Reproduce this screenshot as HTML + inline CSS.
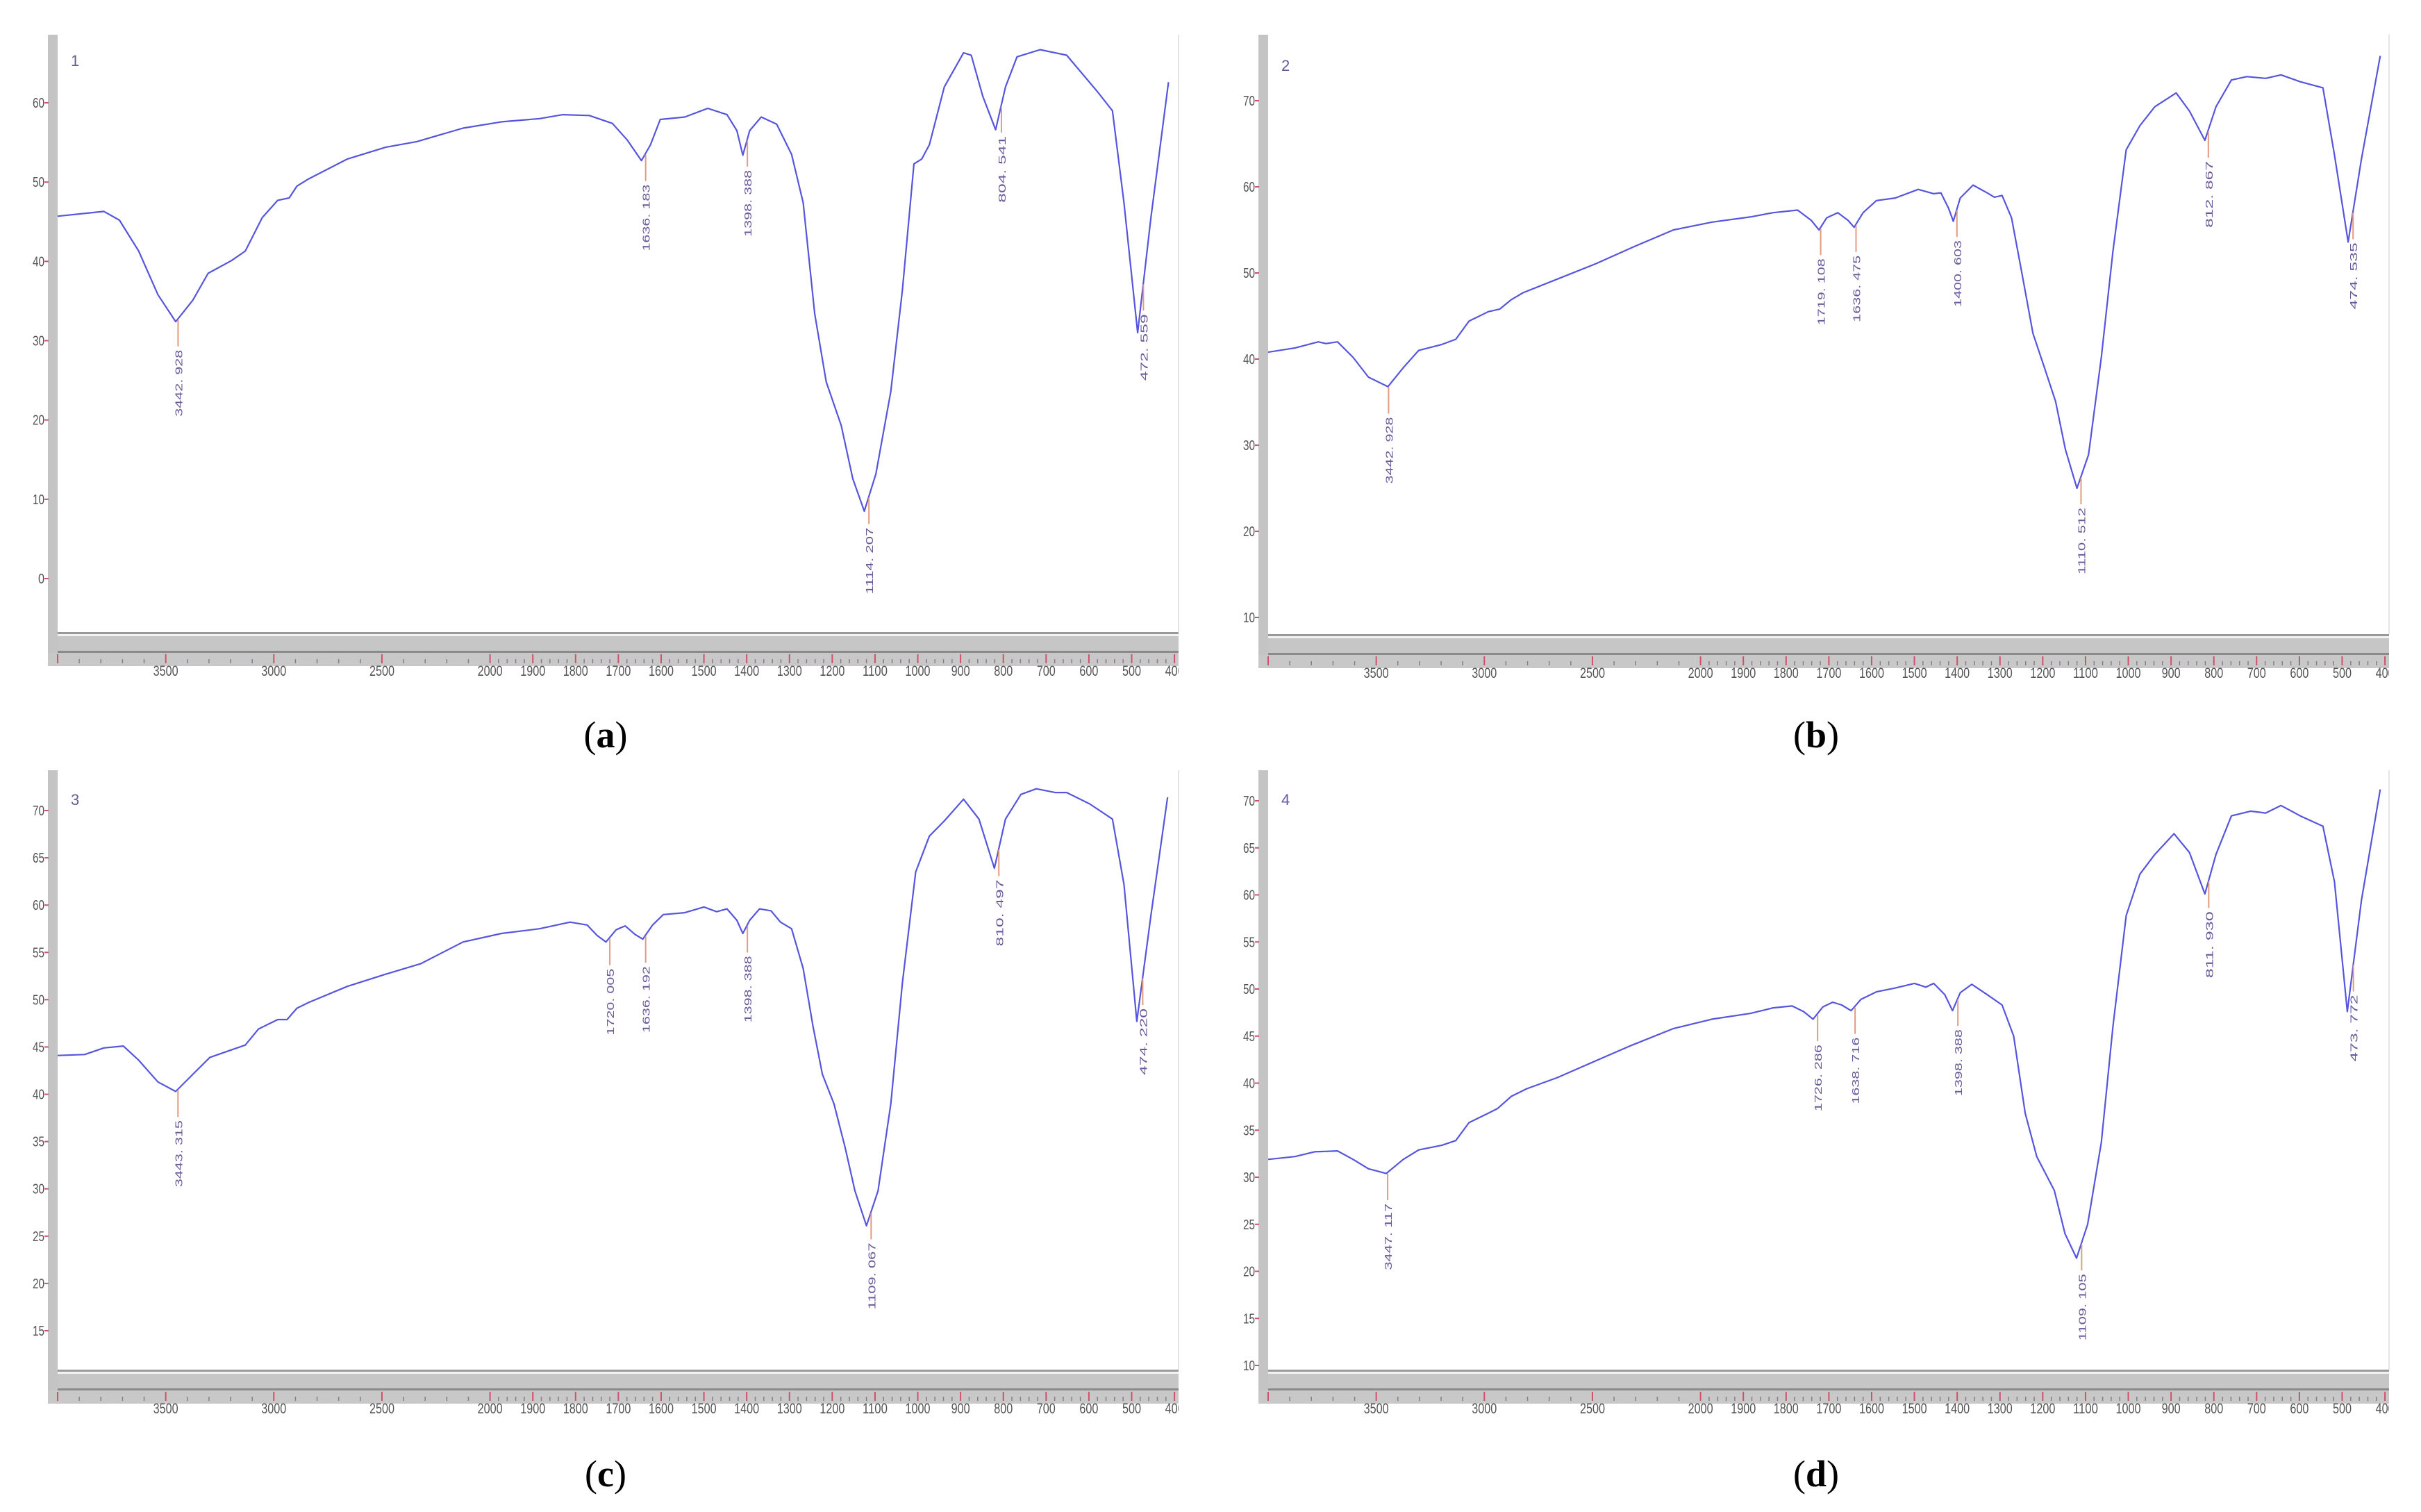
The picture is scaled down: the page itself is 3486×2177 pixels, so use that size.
<!DOCTYPE html>
<html><head><meta charset="utf-8"><style>
html,body{margin:0;padding:0;background:#fff;}
svg{display:block;}
</style></head><body>
<svg id="fig" xmlns="http://www.w3.org/2000/svg" width="3486" height="2177" viewBox="0 0 3486 2177"></svg>
<script>
// ---- Data: panel (a) ----
const wnA=[4000,3786,3714,3625,3536,3454,3375,3304,3196,3132,3054,2982,2929,2893,2839,2661,2482,2339,2125,1973,1884,1830,1768,1714,1679,1646,1625,1602,1545,1491,1446,1423,1409,1393,1366,1330,1295,1268,1241,1214,1179,1152,1125,1098,1063,1036,1009,991,973,938,893,875,848,818,795,768,714,652,580,545,518,486,455,414];
const tA=[45.7,46.3,45.2,41.3,35.8,32.4,35.1,38.5,40.1,41.3,45.5,47.7,48,49.5,50.4,52.9,54.4,55.1,56.8,57.6,58,58.5,58.4,57.4,55.3,52.7,54.7,57.9,58.2,59.3,58.5,56.5,53.4,56.5,58.2,57.3,53.5,47.4,33.4,24.8,19.3,12.6,8.5,13.2,23.6,36.4,52.3,52.9,54.7,62,66.3,66,60.8,56.6,62,65.8,66.7,66,61.4,59,47.4,31,45.5,62.6];
const peaksA=[3442.928,1636.183,1398.388,1114.207,804.541,472.559];
const peakLabelsA=["3442. 928","1636. 183","1398. 388","1114. 207","804. 541","472. 559"];
const yTicksA=[0,10,20,30,40,50,60];
// ---- Data: panel (b) ----
const wnB=[4000,3875,3768,3732,3679,3607,3536,3446,3375,3304,3196,3132,3071,2982,2929,2875,2821,2661,2482,2304,2125,1973,1884,1830,1773,1741,1723,1705,1679,1655,1641,1620,1589,1545,1491,1455,1438,1420,1409,1393,1363,1330,1313,1295,1273,1250,1223,1196,1170,1147,1120,1093,1063,1036,1005,973,938,888,857,821,795,759,723,679,643,598,545,518,486,455,411];
const tB=[40.8,41.3,42,41.8,42,40.2,37.9,36.8,39,41,41.7,42.3,44.4,45.5,45.8,46.9,47.7,49.3,51.1,53.1,55,55.9,56.5,57,57.3,56.1,55,56.4,57,56.1,55.3,57,58.4,58.7,59.7,59.2,59.3,57.5,56,58.7,60.2,59.3,58.8,59,56.4,50.3,43,39,35.1,29.5,25,28.9,40.2,52.5,64.3,67.1,69.3,70.9,68.8,65.4,69.3,72.4,72.8,72.6,73,72.2,71.5,63.7,53.6,63.2,75.2];
const peaksB=[3442.928,1719.108,1636.475,1400.603,1110.512,812.867,474.535];
const peakLabelsB=["3442. 928","1719. 108","1636. 475","1400. 603","1110. 512","812. 867","474. 535"];
const yTicksB=[10,20,30,40,50,60,70];
// ---- Data: panel (c) ----
const wnC=[4000,3875,3786,3696,3625,3536,3454,3375,3296,3132,3071,2982,2939,2893,2839,2661,2482,2321,2125,1973,1884,1813,1773,1750,1729,1705,1684,1661,1643,1620,1595,1545,1500,1470,1446,1423,1409,1393,1370,1343,1321,1295,1268,1245,1223,1196,1170,1147,1120,1093,1063,1036,1005,973,938,893,857,821,795,759,723,679,652,598,545,518,488,455,416];
const tC=[44.1,44.2,44.9,45.1,43.6,41.3,40.3,42.1,43.9,45.2,46.9,47.9,47.9,49.1,49.7,51.4,52.7,53.8,56.1,57,57.5,58.2,57.9,56.8,56.1,57.4,57.8,56.9,56.4,57.9,59,59.2,59.8,59.3,59.6,58.4,57,58.4,59.6,59.4,58.2,57.5,53.3,47.2,42.1,39,34.4,29.8,26.1,29.8,39,51.8,63.5,67.3,68.9,71.2,69.1,63.9,69.1,71.7,72.3,71.9,71.9,70.7,69.1,62.2,47.7,58.9,71.4];
const peaksC=[3443.315,1720.005,1636.192,1398.388,1109.067,810.497,474.220];
const peakLabelsC=["3443. 315","1720. 005","1636. 192","1398. 388","1109. 067","810. 497","474. 220"];
const yTicksC=[15,20,25,30,35,40,45,50,55,60,65,70];
// ---- Data: panel (d) ----
const wnD=[4000,3875,3786,3679,3607,3536,3454,3375,3304,3196,3132,3071,2982,2939,2875,2804,2661,2482,2321,2125,1973,1884,1830,1786,1759,1737,1714,1691,1670,1648,1625,1589,1545,1500,1473,1455,1429,1411,1393,1366,1330,1295,1268,1241,1214,1173,1148,1121,1095,1063,1036,1005,973,938,893,857,821,795,759,714,679,643,598,545,518,488,455,411];
const tD=[31.9,32.2,32.7,32.8,31.9,30.9,30.4,31.9,32.9,33.4,33.9,35.8,36.8,37.3,38.6,39.4,40.6,42.4,44,45.8,46.8,47.4,48,48.2,47.6,46.8,48.1,48.6,48.3,47.7,48.9,49.7,50.1,50.6,50.2,50.6,49.4,47.7,49.6,50.5,49.4,48.3,45,36.8,32.2,28.6,24,21.4,25,33.7,46,57.8,62.2,64.3,66.5,64.5,60.1,64.3,68.4,68.9,68.7,69.5,68.4,67.3,61.4,47.6,59.4,71.2];
const peaksD=[3447.117,1726.286,1638.716,1398.388,1109.105,811.930,473.772];
const peakLabelsD=["3447. 117","1726. 286","1638. 716","1398. 388","1109. 105","811. 930","473. 772"];
const yTicksD=[10,15,20,25,30,35,40,45,50,55,60,65,70];
const xTickLabels=[3500,3000,2500,2000,1900,1800,1700,1600,1500,1400,1300,1200,1100,1000,900,800,700,600,500,400];
const panelIds=["1","2","3","4"];
const captions=["a","b","c","d"];

// ---- Layout (not data) ----
const NS="http://www.w3.org/2000/svg";
const svg=document.getElementById('fig');
const layout=[
 {ox:0,oy:0,barTop:50,band:910,v1:60,y1:148,v2:0,y2:833,cap:1058,idY:87},
 {ox:1743,oy:0,barTop:50,band:913,v1:70,y1:145,v2:10,y2:889,cap:1058,idY:94},
 {ox:0,oy:1088,barTop:21,band:884,v1:70,y1:79,v2:15,y2:828,cap:1034,idY:63},
 {ox:1743,oy:1088,barTop:21,band:884,v1:70,y1:65,v2:10,y2:878,cap:1034,idY:63}
];
const series=[[wnA,tA,peaksA,peakLabelsA,yTicksA],[wnB,tB,peaksB,peakLabelsB,yTicksB],[wnC,tC,peaksC,peakLabelsC,yTicksC],[wnD,tD,peaksD,peakLabelsD,yTicksD]];
function el(tag,attrs,parent){const e=document.createElementNS(NS,tag);for(const k in attrs)e.setAttribute(k,attrs[k]);parent.appendChild(e);return e;}
function xScale(wn){return wn>=2000?83+(4000-wn)/2000*622.6:705.6+(2000-wn)/1600*985.5;}
function interp(wns,ts,w){for(let i=0;i<wns.length-1;i++){if(w<=wns[i]&&w>=wns[i+1]){const f=(wns[i]-w)/(wns[i]-wns[i+1]);return ts[i]+f*(ts[i+1]-ts[i]);}}return ts[ts.length-1];}

layout.forEach((L,pi)=>{
 const [wns,ts,peaks,plabels,yt]=series[pi];
 const yScale=v=>L.y2+(v-L.v2)*(L.y1-L.y2)/(L.v1-L.v2);
 const g=el('g',{transform:`translate(${L.ox},${L.oy})`},svg);
 
 
 const clipId='clip'+pi;
 const cp=el('clipPath',{id:clipId},g);
 el('rect',{x:83,y:L.barTop,width:1614,height:L.band-L.barTop},cp);
 const tclip='tclip'+pi;
 const cp2=el('clipPath',{id:tclip},g);
 el('rect',{x:0,y:0,width:1697,height:1088},cp2);
 const bar=el('rect',{x:69,y:L.barTop,width:14,height:L.band+49-L.barTop,fill:'#c4c4c4'},g);
 
 
 el('line',{x1:1697,y1:L.barTop,x2:1697,y2:L.band,stroke:'#e4e4e4','stroke-width':2},g);
 const band=el('g',{},g);
 
 
 el('rect',{x:83,y:L.band,width:1614,height:3,fill:'#999'},band);
 el('rect',{x:83,y:L.band+3,width:1614,height:3,fill:'#f2f2f2'},band);
 el('rect',{x:83,y:L.band+6,width:1614,height:21,fill:'#c6c6c6'},band);
 el('rect',{x:83,y:L.band+27,width:1614,height:3,fill:'#8a8a8a'},band);
 el('rect',{x:69,y:L.band+30,width:1628,height:19,fill:'#c8c8c8'},band);
 const xt=el('g',{},g);
 
 
 const sy=L.band+30;
 for(let w=4000;w>=400;w-=(w>2000?100:20)){
  const x=xScale(w);
  const major=(w>2000?w%500===0:w%100===0);
  el('line',{x1:x,y1:major?sy+2:sy+9,x2:x,y2:sy+15,stroke:major?'#d0506a':'#8a7a8a','stroke-width':major?2:1.5},xt);
 }
 const xl=el('g',{'clip-path':`url(#${tclip})`},g);
 
 
 xTickLabels.forEach(w=>{
  const t=el('text',{x:xScale(w),y:sy+33,'text-anchor':'middle','font-family':'Liberation Sans, sans-serif','font-size':21,fill:'#555',textLength:w>=1000?36:27,lengthAdjust:'spacingAndGlyphs'},xl);
  t.textContent=w;
  
  
 });
 const yg=el('g',{},g);
 
 
 yt.forEach(v=>{
  const y=yScale(v);
  el('line',{x1:64,y1:y,x2:70,y2:y,stroke:'#d0506a','stroke-width':2},yg);
  const t=el('text',{x:64,y:y+7,'text-anchor':'end','font-family':'Liberation Sans, sans-serif','font-size':20,fill:'#555',textLength:v>=10?17:9,lengthAdjust:'spacingAndGlyphs'},yg);
  t.textContent=v;
  
  
 });
 const idt=el('text',{x:102,y:L.idY+8,'font-family':'Liberation Sans, sans-serif','font-size':22,fill:'#6a5a9a'},g);
 idt.textContent=panelIds[pi];
 
 
 const d=wns.map((w,i)=>(i?'L':'M')+xScale(w).toFixed(1)+','+yScale(ts[i]).toFixed(1)).join(' ');
 const path=el('path',{d:d,fill:'none',stroke:'#5555dd','stroke-width':2.2,'stroke-linejoin':'round','clip-path':`url(#${clipId})`},g);
 
 
 peaks.forEach((p,i)=>{
  const x=xScale(p), y=yScale(interp(wns,ts,p));
  const pg=el('g',{},g);
  
  
  el('line',{x1:x,y1:y+2,x2:x,y2:y+40,stroke:'#e39a80','stroke-width':2},pg);
  const t=el('text',{transform:`translate(${x+6},${y+45}) rotate(-90)`,'text-anchor':'end','font-family':'Liberation Sans, sans-serif','font-size':15,fill:'#6a5a9a',textLength:96,lengthAdjust:'spacingAndGlyphs'},pg);
  t.textContent=plabels[i];
  
  
 });
 const cap=el('text',{x:872,y:L.cap+18,'text-anchor':'middle','font-family':'Liberation Serif, serif','font-size':54,fill:'#000'},g);
 const s1=el('tspan',{},cap);s1.textContent='(';
 const s2=el('tspan',{'font-weight':'bold'},cap);s2.textContent=captions[pi];
 const s3=el('tspan',{},cap);s3.textContent=')';
 
 
});
</script>
</body></html>
